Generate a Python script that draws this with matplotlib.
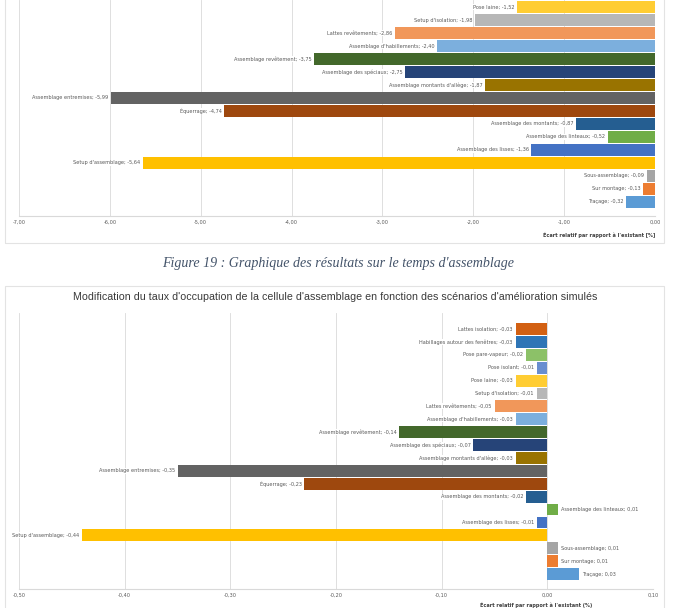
import matplotlib.pyplot as plt
from matplotlib.patches import Rectangle

# scenario names, from top to bottom of the chart
scenarios = [
    "Lattes isolation", "Habillages autour des fenêtres", "Pose pare-vapeur",
    "Pose isolant", "Pose laine", "Setup d'isolation", "Lattes revêtements",
    "Assemblage d'habillements", "Assemblage revêtement",
    "Assemblage des spéciaux", "Assemblage montants d'allège",
    "Assemblage entremises", "Équerrage", "Assemblage des montants",
    "Assemblage des linteaux", "Assemblage des lisses", "Setup d'assemblage",
    "Sous-assemblage", "Sur montage", "Traçage",
]
colors = [
    "#D26012", "#2E75B6", "#8CC168", "#698ED0", "#FFCD33", "#B7B7B7",
    "#F1975A", "#7CAFDD", "#43682B", "#264478", "#997300", "#636363",
    "#9E480E", "#255E91", "#70AD47", "#4472C4", "#FFC000", "#A5A5A5",
    "#ED7D31", "#5B9BD5",
]

# top chart (cropped in the page): only "Pose isolant" onwards is visible
temps_first = 3
temps_values = [
    -1.29, -1.52, -1.98, -2.86, -2.40, -3.75, -2.75, -1.87, -5.99, -4.74,
    -0.87, -0.52, -1.36, -5.64, -0.09, -0.13, -0.32,
]
temps_ticks = [-7, -6, -5, -4, -3, -2, -1, 0]

# bottom chart: occupation rate
occup_values = [
    -0.03, -0.03, -0.02, -0.01, -0.03, -0.01, -0.05, -0.03, -0.14, -0.07,
    -0.03, -0.35, -0.23, -0.02, 0.01, -0.01, -0.44, 0.01, 0.01, 0.03,
]
occup_ticks = [-0.5, -0.4, -0.3, -0.2, -0.1, 0.0, 0.1]

W, H = 673, 608
GRID = "#D9D9D9"
TXT = "#595959"
xlabel_text = "Écart relatif par rapport à l'existant [%]"


def fx(px):
    return px / W


def fy(py):
    return 1 - py / H


def comma(v):
    return f"{v:.2f}".replace(".", ",")


def bar_chart(ax, names, values, cols, ticks):
    ypos = list(range(len(values)))
    ax.barh(ypos, values, height=0.92, color=cols, zorder=2)
    for y, name, v in zip(ypos, names, values):
        ax.annotate(
            f"{name}; {comma(v)}", xy=(v, y),
            xytext=(-2 if v < 0 else 2, 0), textcoords="offset points",
            ha="right" if v < 0 else "left", va="center",
            fontsize=3.6, color=TXT, zorder=3,
            bbox=dict(facecolor="white", edgecolor="none", pad=0.3),
        )
    ax.set_xlim(ticks[0], ticks[-1])
    ax.set_xticks(ticks)
    ax.set_xticklabels([comma(t) for t in ticks])
    ax.set_yticks([])
    ax.grid(True, axis="x", color=GRID, linewidth=0.6, zorder=0)
    for side in ("top", "left", "right"):
        ax.spines[side].set_visible(False)
    ax.spines["bottom"].set_color(GRID)
    ax.spines["bottom"].set_linewidth(0.8)
    ax.tick_params(axis="x", length=0, pad=3, labelsize=3.6, labelcolor=TXT)


fig = plt.figure(figsize=(W / 100, H / 100), dpi=100)
fig.patch.set_facecolor("white")

# chart frames
fig.patches.append(Rectangle((fx(5), fy(243)), fx(659), fy(-10) - fy(243),
                             transform=fig.transFigure, fill=False,
                             edgecolor="#E3E3E3", linewidth=0.8))
fig.patches.append(Rectangle((fx(5), fy(618)), fx(659), fy(286) - fy(618),
                             transform=fig.transFigure, fill=False,
                             edgecolor="#E3E3E3", linewidth=0.8))

ax1 = fig.add_axes([fx(19), fy(216), fx(636), fy(0) - fy(216)])
bar_chart(ax1, scenarios[temps_first:], temps_values,
          colors[temps_first:], temps_ticks)
ax1.set_ylim(17.08, 0.46)
fig.text(fx(655), fy(235), xlabel_text, ha="right", va="center",
         fontsize=3.6, color="#404040", fontweight="bold")

fig.text(fx(338), fy(264),
         "Figure 19 : Graphique des résultats sur le temps d'assemblage",
         ha="center", va="center", fontsize=10.1, style="italic",
         family="Liberation Serif", color="#44546A")

fig.text(fx(335), fy(297),
         "Modification du taux d'occupation de la cellule d'assemblage en "
         "fonction des scénarios d'amélioration simulés",
         ha="center", va="center", fontsize=7.7, color="#3A3A3A",
         family="Liberation Sans")

ax2 = fig.add_axes([fx(19), fy(589), fx(634), fy(313) - fy(589)])
bar_chart(ax2, scenarios, occup_values, colors, occup_ticks)
ax2.set_ylim(20.16, -1.24)
fig.text(fx(592), fy(605), xlabel_text.replace("[%]", "(%)"), ha="right",
         va="center", fontsize=3.6, color="#404040", fontweight="bold")

fig.savefig("out.png", dpi=100)
